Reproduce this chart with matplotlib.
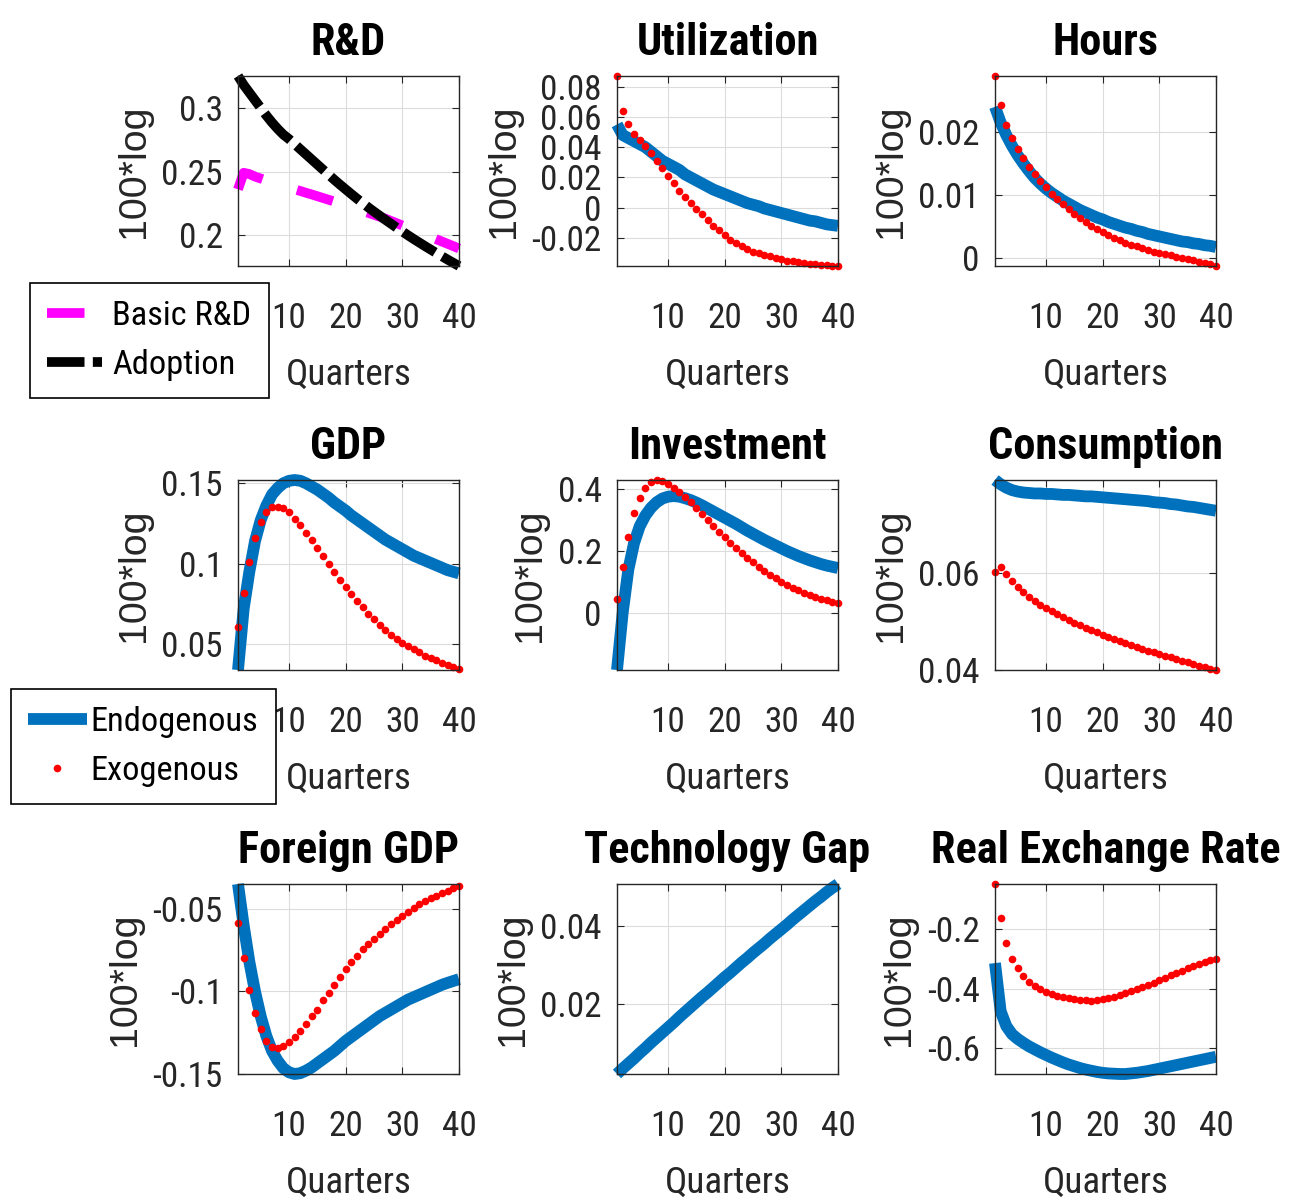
import numpy as np
import matplotlib
matplotlib.use("Agg")
import matplotlib.pyplot as plt
from matplotlib import font_manager
from matplotlib.font_manager import FontProperties
from matplotlib.textpath import TextPath

quarters = np.arange(1, 41)

# R&D panel
rd_basic = [0.236, 0.249, 0.248, 0.246, 0.2445, 0.243, 0.2415, 0.240, 0.2387, 0.2373,
            0.236, 0.2347, 0.2333, 0.232, 0.2306, 0.2292, 0.2278, 0.2264, 0.225, 0.2235,
            0.222, 0.2205, 0.219, 0.2175, 0.216, 0.2145, 0.213, 0.2112, 0.2094, 0.2076,
            0.2058, 0.204, 0.2022, 0.2004, 0.1986, 0.1968, 0.195, 0.1932, 0.1914, 0.1895]
rd_adoption = [0.325, 0.318, 0.312, 0.306, 0.300, 0.294, 0.2885, 0.2835, 0.279, 0.2755,
               0.2715, 0.2675, 0.2635, 0.2595, 0.2555, 0.2515, 0.2475, 0.2435, 0.2397, 0.2360,
               0.2323, 0.2287, 0.2252, 0.2218, 0.2185, 0.2153, 0.2121, 0.2090, 0.2059, 0.2029,
               0.1999, 0.1970, 0.1942, 0.1914, 0.1887, 0.1860, 0.1834, 0.1808, 0.1783, 0.1758]

util_endo = [0.055, 0.048, 0.046, 0.044, 0.042, 0.040, 0.037, 0.034, 0.031, 0.029,
             0.027, 0.025, 0.022, 0.020, 0.018, 0.016, 0.014, 0.012, 0.0105, 0.009,
             0.0075, 0.006, 0.0045, 0.003, 0.002, 0.001, -0.0005, -0.0015, -0.0025, -0.0035,
             -0.0045, -0.0055, -0.0065, -0.0075, -0.0085, -0.009, -0.010, -0.011, -0.0115, -0.012]
util_exo = [0.087, 0.064, 0.055, 0.049, 0.045, 0.041, 0.036, 0.031, 0.026, 0.021,
            0.016, 0.011, 0.007, 0.003, -0.001, -0.004, -0.008, -0.012, -0.015, -0.018,
            -0.021, -0.023, -0.025, -0.027, -0.029, -0.030, -0.031, -0.032, -0.033, -0.034,
            -0.035, -0.0355, -0.036, -0.0365, -0.037, -0.0373, -0.0376, -0.0379, -0.0382, -0.0385]

hours_endo = [0.0240, 0.0215, 0.0195, 0.0178, 0.0163, 0.0150, 0.0138, 0.0127, 0.0118, 0.0110,
              0.0103, 0.0097, 0.0091, 0.0086, 0.0081, 0.0076, 0.0072, 0.0068, 0.0064, 0.0061,
              0.0057, 0.0054, 0.0051, 0.0048, 0.0046, 0.0043, 0.0041, 0.0038, 0.0036, 0.0034,
              0.0032, 0.0030, 0.0028, 0.0026, 0.0025, 0.0023, 0.0022, 0.0020, 0.0019, 0.0017]
hours_exo = [0.0289, 0.0243, 0.0211, 0.0190, 0.0173, 0.0158, 0.0145, 0.0133, 0.0122, 0.0112,
             0.0102, 0.0093, 0.0085, 0.0077, 0.0070, 0.0063, 0.0057, 0.0051, 0.0046, 0.0041,
             0.0036, 0.0032, 0.0028, 0.0024, 0.0021, 0.0018, 0.0015, 0.0012, 0.0010, 0.0008,
             0.0006, 0.0004, 0.0002, 0.0000, -0.0002, -0.0004, -0.0006, -0.0008, -0.0010, -0.0013]

gdp_endo = [0.034, 0.072, 0.095, 0.114, 0.127, 0.136, 0.143, 0.147, 0.150, 0.1515,
            0.152, 0.1515, 0.150, 0.148, 0.146, 0.1435, 0.141, 0.138, 0.1355, 0.133,
            0.130, 0.1275, 0.125, 0.1225, 0.120, 0.1175, 0.115, 0.113, 0.111, 0.109,
            0.107, 0.105, 0.1035, 0.102, 0.1005, 0.099, 0.0975, 0.096, 0.095, 0.094]
gdp_exo = [0.0605, 0.082, 0.101, 0.116, 0.126, 0.132, 0.135, 0.1355, 0.1345, 0.132,
           0.128, 0.124, 0.119, 0.1145, 0.110, 0.105, 0.100, 0.095, 0.090, 0.0855,
           0.081, 0.077, 0.073, 0.069, 0.0655, 0.062, 0.059, 0.056, 0.0535, 0.051,
           0.049, 0.047, 0.045, 0.043, 0.0415, 0.040, 0.0385, 0.037, 0.0358, 0.0346]

inv_endo = [-0.185, 0.0, 0.14, 0.225, 0.28, 0.315, 0.34, 0.358, 0.37, 0.376,
            0.378, 0.376, 0.371, 0.365, 0.357, 0.348, 0.338, 0.328, 0.318, 0.308,
            0.298, 0.288, 0.277, 0.266, 0.256, 0.246, 0.236, 0.227, 0.218, 0.209,
            0.200, 0.192, 0.184, 0.177, 0.170, 0.164, 0.158, 0.153, 0.149, 0.145]
inv_exo = [0.046, 0.15, 0.247, 0.322, 0.371, 0.403, 0.422, 0.430, 0.428, 0.418,
           0.404, 0.390, 0.376, 0.358, 0.340, 0.320, 0.300, 0.281, 0.262, 0.244,
           0.227, 0.210, 0.194, 0.179, 0.164, 0.150, 0.137, 0.124, 0.112, 0.100,
           0.090, 0.081, 0.073, 0.065, 0.058, 0.051, 0.045, 0.040, 0.035, 0.032]

cons_endo = [0.0794, 0.0785, 0.0778, 0.0773, 0.0770, 0.0768, 0.0767, 0.0766, 0.0766, 0.0765,
             0.0765, 0.0764, 0.0763, 0.0763, 0.0762, 0.0761, 0.0760, 0.0760, 0.0759, 0.0758,
             0.0757, 0.0756, 0.0755, 0.0754, 0.0753, 0.0752, 0.0751, 0.0750, 0.0748, 0.0747,
             0.0746, 0.0744, 0.0743, 0.0741, 0.0739, 0.0738, 0.0736, 0.0734, 0.0732, 0.0730]
cons_exo = [0.0603, 0.0613, 0.0598, 0.0584, 0.0572, 0.0561, 0.0551, 0.0542, 0.0535, 0.0528,
            0.0521, 0.0515, 0.0509, 0.0503, 0.0497, 0.0492, 0.0487, 0.0482, 0.0477, 0.0472,
            0.0468, 0.0463, 0.0459, 0.0455, 0.0451, 0.0447, 0.0443, 0.0439, 0.0436, 0.0432,
            0.0429, 0.0425, 0.0422, 0.0418, 0.0415, 0.0412, 0.0408, 0.0405, 0.0402, 0.0399]

fgdp_endo = [-0.035, -0.060, -0.082, -0.100, -0.115, -0.127, -0.136, -0.142, -0.1465, -0.149,
             -0.150, -0.1495, -0.148, -0.146, -0.1435, -0.141, -0.1385, -0.136, -0.133, -0.130,
             -0.1275, -0.125, -0.1225, -0.120, -0.1175, -0.115, -0.113, -0.111, -0.109, -0.107,
             -0.105, -0.1035, -0.102, -0.1005, -0.099, -0.0975, -0.096, -0.0948, -0.0937, -0.0926]
fgdp_exo = [-0.0585, -0.080, -0.0994, -0.113, -0.123, -0.130, -0.1337, -0.134, -0.133, -0.1307,
            -0.1277, -0.124, -0.1199, -0.115, -0.111, -0.1055, -0.101, -0.096, -0.091, -0.0862,
            -0.082, -0.0783, -0.0745, -0.0711, -0.068, -0.065, -0.062, -0.059, -0.0565, -0.0542,
            -0.0518, -0.0494, -0.0472, -0.0452, -0.0436, -0.0422, -0.0406, -0.0392, -0.0377, -0.0362]

gap_endo = [0.0018, 0.0032, 0.0045, 0.0058, 0.0072, 0.0085, 0.0099, 0.0112, 0.0125, 0.0138,
            0.0151, 0.0165, 0.0178, 0.0191, 0.0204, 0.0217, 0.0229, 0.0242, 0.0255, 0.0268,
            0.0280, 0.0293, 0.0306, 0.0318, 0.0331, 0.0343, 0.0355, 0.0368, 0.0380, 0.0392,
            0.0404, 0.0417, 0.0429, 0.0441, 0.0453, 0.0465, 0.0476, 0.0488, 0.0499, 0.0509]

rer_endo = [-0.313, -0.475, -0.525, -0.552, -0.568, -0.581, -0.593, -0.603, -0.613, -0.622,
            -0.631, -0.639, -0.647, -0.654, -0.660, -0.666, -0.671, -0.675, -0.679, -0.682,
            -0.684, -0.685, -0.686, -0.686, -0.684, -0.682, -0.679, -0.676, -0.672, -0.668,
            -0.664, -0.660, -0.656, -0.652, -0.648, -0.644, -0.640, -0.636, -0.632, -0.628]
rer_exo = [-0.047, -0.163, -0.246, -0.298, -0.331, -0.357, -0.376, -0.390, -0.400, -0.409,
           -0.416, -0.423, -0.427, -0.431, -0.434, -0.437, -0.438, -0.439, -0.438, -0.435,
           -0.431, -0.426, -0.421, -0.415, -0.408, -0.401, -0.394, -0.387, -0.379, -0.371,
           -0.362, -0.354, -0.346, -0.338, -0.331, -0.324, -0.317, -0.310, -0.304, -0.298]

x_ticks = [10, 20, 30, 40]

# a condensed face mimics the tall lettering of the original, if one is installed
nomes = {f.name for f in font_manager.fontManager.ttflist}
COND = "Liberation Sans"
for cand in ["Liberation Sans Narrow", "Arial Narrow", "Roboto Condensed",
             "Archivo Narrow", "Pragati Narrow", "PT Sans Narrow"]:
    if cand in nomes:
        COND = cand
        break
REG = "Liberation Sans"

DPI = 100


def tamanho(texto, alvo_px, familia, peso="normal"):
    """Tamanho de fonte (pt) para que o texto ocupe alvo_px de largura."""
    tp = TextPath((0, 0), texto, size=100, prop=FontProperties(family=familia, weight=peso))
    largura = tp.get_extents().width
    return alvo_px * 72 * 100 / (largura * DPI)


FS_TICK = tamanho("0.25", 58, COND)
FS_XLAB = tamanho("Quarters", 122, COND)
FS_TIT = tamanho("Utilization", 178, COND, "bold")
FS_LEG = tamanho("Endogenous", 163, COND)
FS_YLAB = tamanho("100*log", 128, REG)

plt.rcParams["font.family"] = [COND, "DejaVu Sans"]
plt.rcParams["axes.unicode_minus"] = False
plt.rcParams["lines.scale_dashes"] = False

BLUE = "#0072BD"
RED = "#FF0000"
MAGENTA = "#FF00FF"
DARK = "#262626"

W, H = 1290, 1200
fig = plt.figure(figsize=(W / DPI, H / DPI), dpi=DPI)


def painel(left, top, titulo, yticks, series):
    ax = fig.add_axes([left / W, 1 - (top + 190) / H, 221 / W, 190 / H])
    todos = np.concatenate([np.asarray(s[0]) for s in series])
    handles = []
    for valores, estilo in series:
        h, = ax.plot(quarters, valores, clip_on=False, **estilo)
        handles.append(h)
    ax.set_xlim(1, 40)
    ax.set_ylim(todos.min(), todos.max())
    ax.set_xticks(x_ticks)
    ax.set_xticklabels([str(t) for t in x_ticks])
    ax.set_yticks(yticks)
    ax.set_yticklabels(["%g" % t for t in yticks])
    ax.tick_params(direction="in", length=5, width=0.8, top=True, right=True,
                   color=DARK, labelcolor=DARK, labelsize=FS_TICK)
    ax.tick_params(axis="x", pad=26)
    ax.tick_params(axis="y", pad=11)
    ax.grid(True, color="#dcdcdc", lw=0.8)
    ax.set_axisbelow(True)
    for sp in ax.spines.values():
        sp.set_color(DARK)
        sp.set_linewidth(1.0)
    ax.set_title(titulo, fontsize=FS_TIT, fontweight="bold", pad=15)
    ax.set_xlabel("Quarters", fontsize=FS_XLAB, color=DARK, labelpad=16)
    ax.set_ylabel("100*log", fontsize=FS_YLAB, family=REG, color=DARK, labelpad=7)
    return ax, handles


endo = dict(color=BLUE, lw=8.5, solid_capstyle="butt")
exo = dict(color=RED, ls="none", marker="o", ms=5.5, mec="none")

cols = [238, 617, 995]
rows = [76, 480, 884]

ax_rd, h_rd = painel(cols[0], rows[0], "R&D", [0.2, 0.25, 0.3], [
    (rd_basic, dict(color=MAGENTA, lw=7, dashes=(27, 26), dash_capstyle="butt")),
    (rd_adoption, dict(color="black", lw=7, dashes=(27, 6), dash_capstyle="butt")),
])
painel(cols[1], rows[0], "Utilization", [-0.02, 0, 0.02, 0.04, 0.06, 0.08],
       [(util_endo, endo), (util_exo, exo)])
painel(cols[2], rows[0], "Hours", [0, 0.01, 0.02],
       [(hours_endo, endo), (hours_exo, exo)])
ax_gdp, h_gdp = painel(cols[0], rows[1], "GDP", [0.05, 0.1, 0.15],
                       [(gdp_endo, endo), (gdp_exo, exo)])
painel(cols[1], rows[1], "Investment", [0, 0.2, 0.4],
       [(inv_endo, endo), (inv_exo, exo)])
painel(cols[2], rows[1], "Consumption", [0.04, 0.06],
       [(cons_endo, endo), (cons_exo, exo)])
painel(cols[0], rows[2], "Foreign GDP", [-0.15, -0.1, -0.05],
       [(fgdp_endo, endo), (fgdp_exo, exo)])
painel(cols[1], rows[2], "Technology Gap", [0.02, 0.04],
       [(gap_endo, endo)])
painel(cols[2], rows[2], "Real Exchange Rate", [-0.6, -0.4, -0.2],
       [(rer_endo, endo), (rer_exo, exo)])

leg_kw = dict(loc="upper left", bbox_transform=fig.transFigure, borderaxespad=0,
              fontsize=FS_LEG, fancybox=False, framealpha=1, edgecolor="black",
              numpoints=1, labelspacing=0.48, borderpad=0.5)
leg1 = fig.legend(h_rd, ["Basic R&D", "Adoption"], bbox_to_anchor=(30 / W, 1 - 283 / H),
                  handlelength=1.6, handletextpad=0.3, **leg_kw)
leg2 = fig.legend(h_gdp, ["Endogenous", "Exogenous"], bbox_to_anchor=(11 / W, 1 - 689 / H),
                  handlelength=1.7, handletextpad=0.12, **leg_kw)
for leg in (leg1, leg2):
    leg.get_frame().set_linewidth(1.2)

fig.savefig("out.png", dpi=DPI, facecolor="white")
